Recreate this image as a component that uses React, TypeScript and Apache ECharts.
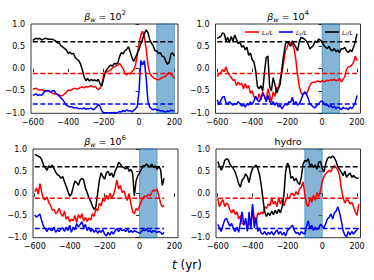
import React, { useEffect, useRef } from "react";
import * as echarts from "echarts";

// time samples (yr)
const times = [
  -600, -590, -580, -570, -560, -550, -540, -530, -520, -510,
  -500, -490, -480, -470, -460, -450, -440, -430, -420, -410,
  -400, -390, -380, -370, -360, -350, -340, -330, -320, -310,
  -300, -290, -280, -270, -260, -250, -240, -230, -220, -210,
  -200, -190, -180, -170, -160, -150, -140, -130, -120, -110,
  -100, -90, -80, -70, -60, -50, -40, -30, -20, -10,
  0, 10, 20, 30, 40, 50, 60, 70, 80, 90,
  100, 110, 120, 130, 140, 150, 160, 170, 180, 190,
  200, 210,
];

// ---- panel 1: beta_w = 10^2 ----
const p1Red = [
  -0.46, -0.45, -0.44, -0.47, -0.48, -0.47, -0.49, -0.5, -0.49, -0.51,
  -0.52, -0.55, -0.56, -0.57, -0.58, -0.59, -0.61, -0.6, -0.56, -0.53,
  -0.48, -0.49, -0.47, -0.45, -0.44, -0.46, -0.44, -0.42, -0.41, -0.43,
  -0.4, -0.41, -0.4, -0.38, -0.41, -0.4, -0.43, -0.47, -0.44, -0.36,
  -0.14, -0.1, -0.07, -0.05, -0.03, 0.02, 0.04, 0.06, 0.08, 0.12,
  0.06, 0.0, -0.1, -0.14, -0.1, -0.12, -0.06, -0.03, 0.08, 0.3,
  0.55, 0.75, 0.84, 0.72, 0.45, 0.1, -0.1, -0.16, -0.2, -0.22,
  -0.24, -0.25, -0.23, -0.2, -0.19, -0.17, -0.12, -0.08, -0.13, -0.16,
  -0.22,
];
const p1Blue = [
  -0.6, -0.58, -0.57, -0.6, -0.58, -0.6, -0.55, -0.5, -0.5, -0.49,
  -0.52, -0.5, -0.49, -0.55, -0.58, -0.62, -0.66, -0.7, -0.76, -0.82,
  -0.84, -0.86, -0.85, -0.88, -0.87, -0.88, -0.9, -0.89, -0.9, -0.88,
  -0.91, -0.89, -0.9, -0.88, -0.92, -0.9, -0.86, -0.8, -0.84, -0.95,
  -0.99, -0.99, -0.99, -0.99, -0.99, -0.99, -0.98, -0.99, -0.98, -0.96,
  -0.97, -0.94, -0.96, -0.92, -0.95, -0.94, -0.97, -0.93, -0.9, -0.85,
  -0.5, 0.18, 0.08, 0.18, -0.2, -0.72, -0.86, -0.9, -0.92, -0.9,
  -0.93, -0.92, -0.95, -0.94, -0.96, -0.97, -0.95, -0.96, -0.93, -0.94,
  -0.95,
];
const p1Black = [
  0.63, 0.66, 0.68, 0.66, 0.68, 0.64, 0.66, 0.68, 0.67, 0.66,
  0.66, 0.66, 0.64, 0.62, 0.58, 0.57, 0.51, 0.48, 0.45, 0.42,
  0.34, 0.37, 0.33, 0.34, 0.25, 0.21, 0.18, 0.1, -0.03, -0.18,
  -0.27, -0.22, -0.28, -0.24, -0.27, -0.25, -0.28, -0.24, -0.34, -0.39,
  -0.22, -0.07, -0.01, 0.04, 0.08, 0.06, 0.12, 0.1, 0.13, 0.27,
  0.36, 0.33, 0.4, 0.43, 0.49, 0.38, 0.25, 0.16, 0.25, 0.34,
  0.43, 0.55, 0.66, 0.78, 0.87, 0.81, 0.66, 0.57, 0.51, 0.4,
  0.4, 0.34, 0.36, 0.28, 0.27, 0.18, 0.1, 0.14, 0.33, 0.35,
  0.28,
];

// ---- panel 2: beta_w = 10^4 ----
const p2Red = [
  -0.18, -0.12, -0.1, -0.02, -0.07, 0.04, -0.08, -0.15, -0.2, -0.26,
  -0.25, -0.38, -0.3, -0.36, -0.33, -0.45, -0.34, -0.44, -0.38, -0.55,
  -0.5, -0.63, -0.66, -0.7, -0.56, -0.7, -0.52, -0.62, -0.72, -0.45,
  -0.6, -0.74, -0.52, -0.62, -0.42, -0.45, -0.25, -0.1, 0.15, 0.4,
  0.48, 0.6, 0.58, 0.55, 0.44, 0.2, -0.15, -0.4, -0.55, -0.58,
  -0.55, -0.57, -0.48, -0.38, -0.32, -0.3, -0.31, -0.28, -0.28, -0.3,
  -0.27, -0.29, -0.28, -0.26, -0.27, -0.25, -0.26, -0.24, -0.27, -0.26,
  -0.22, -0.3, -0.24, -0.18, -0.02, 0.04, 0.05, 0.08, 0.14, 0.28,
  0.18,
];
const p2Blue = [
  -0.7, -0.8, -0.72, -0.64, -0.62, -0.76, -0.8, -0.74, -0.78, -0.82,
  -0.78, -0.8, -0.74, -0.78, -0.84, -0.8, -0.86, -0.78, -0.82, -0.74,
  -0.8, -0.72, -0.62, -0.7, -0.74, -0.66, -0.56, -0.62, -0.74, -0.6,
  -0.72, -0.8, -0.74, -0.82, -0.76, -0.86, -0.82, -0.9, -0.84, -0.78,
  -0.82, -0.74, -0.76, -0.64, -0.8, -0.74, -0.82, -0.78, -0.7, -0.58,
  -0.52, -0.56, -0.66, -0.78, -0.82, -0.86, -0.88, -0.82, -0.8, -0.74,
  -0.72, -0.78, -0.82, -0.8, -0.86, -0.82, -0.88, -0.84, -0.9, -0.86,
  -0.88, -0.92, -0.86, -0.9, -0.88, -0.92, -0.86, -0.9, -0.84, -0.76,
  -0.6,
];
const p2Black = [
  0.68, 0.7, 0.72, 0.8, 0.78, 0.62, 0.7, 0.58, 0.72, 0.62,
  0.75, 0.66, 0.56, 0.6, 0.48, 0.52, 0.42, 0.48, 0.3, 0.35,
  0.2, 0.15, -0.05, -0.4, -0.45, -0.38, -0.5, -0.1, 0.25, 0.28,
  -0.4, -0.5, -0.2, -0.35, -0.55, -0.45, -0.35, 0.0, 0.3, 0.55,
  0.6, 0.57, 0.5, 0.62, 0.55, 0.48, 0.4, 0.62, 0.7, 0.68,
  0.66, 0.62, 0.55, 0.44, 0.48, 0.52, 0.62, 0.58, 0.66, 0.64,
  0.6, 0.52, 0.48, 0.45, 0.5, 0.42, 0.4, 0.45, 0.38, 0.42,
  0.36, 0.45, 0.44, 0.48, 0.4, 0.36, 0.42, 0.38, 0.48, 0.6,
  0.78,
];

// ---- panel 3: beta_w = 10^6 ----
const p3Red = [
  0.04, 0.12, -0.02, 0.22, 0.02, -0.12, -0.15, -0.08, -0.2, -0.26,
  -0.38, -0.36, -0.46, -0.42, -0.34, -0.46, -0.52, -0.4, -0.58, -0.52,
  -0.64, -0.58, -0.62, -0.5, -0.66, -0.48, -0.56, -0.46, -0.62, -0.54,
  -0.64, -0.56, -0.6, -0.46, -0.52, -0.34, -0.4, -0.22, -0.28, -0.12,
  -0.18, -0.04, -0.14, 0.0, -0.1, -0.04, 0.1, 0.3, 0.1, 0.18,
  0.02, 0.06, -0.06, -0.16, 0.0, -0.22, -0.42, -0.46, -0.34, -0.38,
  -0.28, -0.18, -0.1, -0.06, -0.08, -0.02, -0.06, 0.02, 0.08, 0.05,
  0.1, -0.05, -0.22, -0.3, -0.27,
];
const p3Blue = [
  -0.49, -0.54, -0.5, -0.47, -0.62, -0.74, -0.8, -0.86, -0.78, -0.82,
  -0.84, -0.76, -0.88, -0.82, -0.86, -0.8, -0.78, -0.86, -0.76, -0.84,
  -0.72, -0.88, -0.76, -0.82, -0.68, -0.76, -0.7, -0.64, -0.78, -0.7,
  -0.84, -0.76, -0.86, -0.8, -0.88, -0.82, -0.9, -0.84, -0.88, -0.82,
  -0.92, -0.96, -0.88, -0.94, -0.86, -0.92, -0.84, -0.8, -0.86, -0.8,
  -0.84, -0.82, -0.86, -0.8, -0.88, -0.84, -0.88, -0.84, -0.86, -0.88,
  -0.9, -0.86, -0.82, -0.84, -0.8, -0.86, -0.84, -0.88, -0.84, -0.86,
  -0.88, -0.86, -0.88, -0.92, -0.88,
];
const p3Black = [
  0.88, 0.86, 0.84, 0.82, 0.76, 0.64, 0.58, 0.52, 0.62, 0.58,
  0.64, 0.56, 0.48, 0.42, 0.4, 0.34, 0.38, 0.26, 0.16, 0.04,
  -0.06, -0.02, 0.14, 0.28, 0.24, 0.18, 0.3, 0.34, 0.3, 0.12,
  0.02, -0.1, -0.18, -0.28, -0.36, -0.3, 0.0, 0.3, 0.46, 0.38,
  0.32, 0.46, 0.5, 0.4, 0.46, 0.36, 0.5, 0.58, 0.7, 0.66,
  0.6, 0.58, 0.55, 0.6, 0.5, 0.54, 0.46, -0.06, 0.28, 0.4,
  0.46, 0.54, 0.62, 0.62, 0.66, 0.62, 0.6, 0.66, 0.58, 0.62,
  0.54, 0.6, 0.54, 0.18, 0.34,
];

// ---- panel 4: hydro ----
const p4Red = [
  -0.12, -0.3, -0.2, -0.14, -0.3, -0.22, -0.26, -0.38, -0.44, -0.36,
  -0.48, -0.42, -0.58, -0.5, -0.68, -0.7, -0.64, -0.78, -0.66, -0.74,
  -0.3, -0.56, -0.66, -0.44, -0.48, -0.42, -0.46, -0.3, -0.34, -0.24,
  -0.28, -0.12, -0.24, -0.18, -0.3, -0.1, -0.24, -0.14, -0.28, -0.16,
  -0.08, -0.12, -0.02, 0.0, -0.06, 0.04, -0.04, 0.1, 0.14, 0.26,
  -0.02, -0.24, -0.3, -0.1, -0.2, -0.04, -0.16, 0.02, -0.08, 0.06,
  0.26, 0.38, 0.44, 0.48, 0.52, 0.48, 0.58, 0.62, 0.58, 0.52,
  0.4, 0.1, -0.1, -0.22, -0.14, -0.16, -0.24, -0.2, -0.3, -0.42,
  -0.5, -0.24,
];
const p4Blue = [
  -0.7, -0.78, -0.86, -0.72, -0.6, -0.56, -0.66, -0.74, -0.68, -0.8,
  -0.86, -0.76, -0.88, -0.66, -0.42, -0.72, -0.56, -0.86, -0.42, -0.8,
  -0.24, -0.78, -0.54, -0.86, -0.78, -0.9, -0.92, -0.86, -0.94, -0.88,
  -0.92, -0.86, -0.94, -0.88, -0.82, -0.92, -0.86, -0.94, -0.88, -0.96,
  -0.84, -0.8, -0.76, -0.72, -0.84, -0.9, -0.88, -0.94, -0.86, -0.9,
  -0.92, -0.74, -0.62, -0.8, -0.72, -0.84, -0.76, -0.82, -0.78, -0.7,
  -0.74, -0.78, -0.68, -0.58, -0.54, -0.46, -0.58, -0.44, -0.4, -0.3,
  -0.44, -0.62, -0.84, -0.94, -0.98, -0.86, -0.94, -0.86, -0.92, -0.86,
  -0.82, -0.78,
];
const p4Black = [
  0.72, 0.62, 0.52, 0.6, 0.74, 0.78, 0.76, 0.66, 0.6, 0.56,
  0.48, 0.36, 0.22, 0.14, 0.3, 0.34, 0.44, 0.38, 0.24, 0.44,
  0.56, 0.6, 0.64, 0.56, 0.42, 0.18, -0.14, -0.42, -0.52, -0.44,
  -0.5, -0.4, -0.48, -0.38, -0.46, -0.36, -0.44, -0.3, -0.04, 0.5,
  0.68, 0.62, 0.34, 0.38, 0.28, 0.34, 0.24, 0.2, 0.36, 0.66,
  0.74, 0.72, 0.78, 0.62, 0.66, 0.58, 0.64, 0.54, 0.7, 0.72,
  0.56, 0.48, 0.66, 0.78, 0.82, 0.8, 0.84, 0.8, 0.72, 0.6,
  0.54, 0.48, 0.4, 0.5, 0.36, 0.42, 0.46, 0.36, 0.4, 0.36,
  0.34, 0.34,
];

// reference (dashed) levels
const refRed = -0.11;
const refBlue = -0.79;
const refBlack = 0.6;

// shaded intervals per panel (yr)
const bandStart = [100, 0, 0, -100];
const bandEnd = [200, 100, 100, 0];

// tick labels
const xTicks = [-600, -400, -200, 0, 200];
const yTicks = [-1, -0.5, 0, 0.5, 1];

const seriesNames = ["Lx/L", "Ly/L", "Lz/L"];
const subs = ["x", "y", "z"];

const panels = [
  { red: p1Red, blue: p1Blue, black: p1Black },
  { red: p2Red, blue: p2Blue, black: p2Black },
  { red: p3Red, blue: p3Blue, black: p3Black },
  { red: p4Red, blue: p4Blue, black: p4Black },
];

const grids = [
  { left: 31, top: 24, width: 147, height: 89.3 },
  { left: 215.5, top: 24, width: 145, height: 89.3 },
  { left: 33, top: 149, width: 145, height: 88.7 },
  { left: 216, top: 149, width: 144.5, height: 88.7 },
];
const xMin = -610;
const xMax = 220;

const FONT = "DejaVu Sans";
const fmt = (v: number, d: number) =>
  (v < 0 ? "\u2212" : "") + Math.abs(v).toFixed(d);

const titleRich = {
  b: { fontFamily: FONT, fontSize: 9.5, fontStyle: "italic", fill: "#000", lineHeight: 14, verticalAlign: "middle" },
  s: { fontFamily: FONT, fontSize: 6.5, fontStyle: "italic", fill: "#000", verticalAlign: "bottom" },
  n: { fontFamily: FONT, fontSize: 9.5, fill: "#000", lineHeight: 14, verticalAlign: "middle" },
  p: { fontFamily: FONT, fontSize: 6.5, fill: "#000", verticalAlign: "top" },
};

const App: React.FC = () => {
  const ref = useRef<HTMLDivElement>(null);
  useEffect(() => {
    if (!ref.current) return;
    const chart = echarts.init(ref.current, undefined, { renderer: "svg" });

    const xAxis: any[] = [];
    const yAxis: any[] = [];
    const series: any[] = [];
    const colors = ["#ff0000", "#0000ff", "#000000"];
    const refs = [refRed, refBlue, refBlack];

    panels.forEach((p, i) => {
      xAxis.push({
        type: "value",
        gridIndex: i,
        min: xMin,
        max: xMax,
        splitLine: { show: false },
        axisLine: { show: false },
        axisTick: { show: true, length: 3.5, lineStyle: { color: "#000", width: 0.8 }, customValues: xTicks },
        axisLabel: { show: true, customValues: xTicks, formatter: (v: number) => fmt(v, 0), fontFamily: FONT, fontSize: 8, color: "#000", margin: 5 },
      });
      yAxis.push({
        type: "value",
        gridIndex: i,
        min: -1,
        max: 1,
        interval: 0.5,
        splitLine: { show: false },
        axisLine: { show: false },
        axisTick: { show: true, length: 3.5, lineStyle: { color: "#000", width: 0.8 }, customValues: yTicks },
        axisLabel: { show: true, customValues: yTicks, formatter: (v: number) => fmt(v, 1), fontFamily: FONT, fontSize: 8, color: "#000", margin: 6 },
      });

      // shaded band
      series.push({
        type: "line",
        name: "band" + i,
        xAxisIndex: i,
        yAxisIndex: i,
        data: [],
        silent: true,
        z: 1,
        markArea: {
          silent: true,
          itemStyle: { color: "rgba(31,119,180,0.55)", borderColor: "rgba(31,119,180,0.7)", borderWidth: 0.8 },
          data: [[{ xAxis: bandStart[i] }, { xAxis: bandEnd[i] }]],
        },
      });

      const vals = [p.red, p.blue, p.black];
      vals.forEach((arr, k) => {
        series.push({
          type: "line",
          name: seriesNames[k],
          xAxisIndex: i,
          yAxisIndex: i,
          data: arr.map((v, j) => [times[j], v]),
          showSymbol: false,
          symbol: "none",
          z: 3,
          lineStyle: { color: colors[k], width: 1.5 },
          itemStyle: { color: colors[k] },
        });
      });
      const tEnd = times[vals[0].length - 1];
      refs.forEach((lv, k) => {
        series.push({
          type: "line",
          name: "ref" + k + "-" + i,
          xAxisIndex: i,
          yAxisIndex: i,
          data: [[times[0], lv], [tEnd, lv]],
          showSymbol: false,
          symbol: "none",
          silent: true,
          z: 4,
          lineStyle: { color: colors[k], width: 1.5, type: [5, 2.5] },
        });
      });
    });

    const legendBase = (name: string, left: number, sub: string) => ({
      data: [name],
      left,
      top: 29,
      padding: 0,
      icon: "rect",
      itemWidth: 14,
      itemHeight: 1.6,
      selectedMode: false,
      formatter: () => `{a|L}{s|${sub}}{a|/L}`,
      textStyle: {
        color: "#000",
        padding: [0, 0, 0, -2],
        rich: {
          a: { fontFamily: FONT, fontSize: 6, fontStyle: "italic", color: "#000", lineHeight: 8, verticalAlign: "middle" },
          s: { fontFamily: FONT, fontSize: 4.2, fontStyle: "italic", color: "#000", verticalAlign: "bottom" },
        },
      },
    });

    const titleText = (x: number, y: number, text: string) => ({
      type: "text",
      x,
      y,
      silent: true,
      style: { text, align: "center", verticalAlign: "middle", rich: titleRich, fill: "#000", fontFamily: FONT, fontSize: 9.5 },
    });

    chart.setOption({
      animation: false,
      backgroundColor: "#fff",
      grid: grids.map((g) => ({
        ...g,
        show: true,
        borderColor: "#000",
        borderWidth: 0.8,
        backgroundColor: "transparent",
        containLabel: false,
        outerBoundsMode: "none",
      })),
      xAxis,
      yAxis,
      legend: [
        legendBase(seriesNames[0], 245, subs[0]),
        legendBase(seriesNames[1], 279, subs[1]),
        legendBase(seriesNames[2], 325, subs[2]),
      ],
      graphic: [
        titleText(105, 16.5, "{b|β}{s|w}{n| = 10}{p|2}"),
        titleText(288, 16.5, "{b|β}{s|w}{n| = 10}{p|4}"),
        titleText(105, 141.5, "{b|β}{s|w}{n| = 10}{p|6}"),
        {
          type: "text",
          x: 288,
          y: 141.5,
          silent: true,
          style: { text: "hydro", align: "center", verticalAlign: "middle", fill: "#000", fontFamily: FONT, fontSize: 9.5 },
        },
        {
          type: "text",
          x: 187,
          y: 265,
          silent: true,
          style: {
            text: "{i|t}{r| (yr)}",
            align: "center",
            verticalAlign: "middle",
            fill: "#000",
            fontFamily: FONT,
            fontSize: 12,
            rich: {
              i: { fontFamily: FONT, fontSize: 12, fontStyle: "italic", fill: "#000" },
              r: { fontFamily: FONT, fontSize: 12, fill: "#000" },
            },
          },
        },
      ],
      series,
    });
    return () => chart.dispose();
  }, []);
  return (
    <div
      ref={ref}
      style={{ position: "fixed", left: 0, top: 0, width: 374, height: 280, background: "#fff" }}
    />
  );
};

export default App;
